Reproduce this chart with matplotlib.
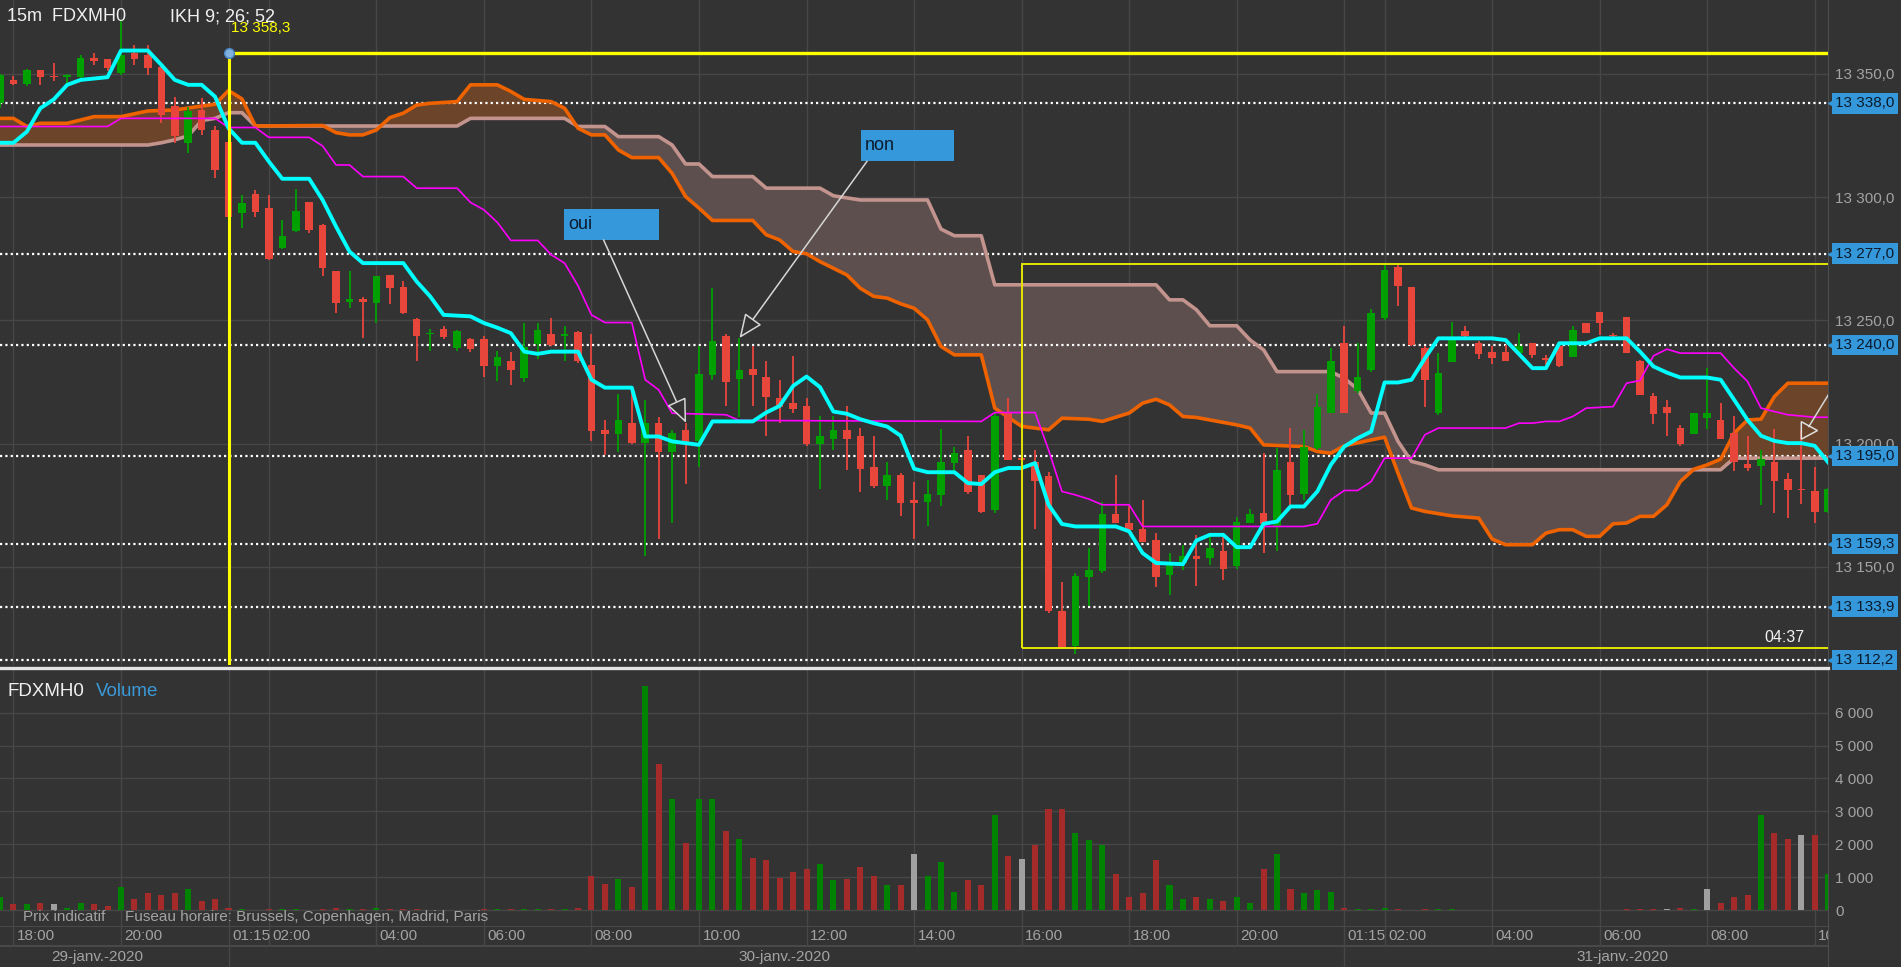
import numpy as np
import matplotlib.pyplot as plt
import matplotlib.transforms as mtransforms
from matplotlib.patches import Rectangle, Polygon
from matplotlib.lines import Line2D

plt.rcParams['font.family'] = ['Liberation Sans', 'DejaVu Sans']

# ── 15 min bars, index 0 = 29 Jan 18:00 ──
bar_idx = np.arange(-1, 136)

opens = [
    13338, 13347.5, 13346, 13351.5, 13349, 13348.5, 13348.5, 13356.3, 13355.8, 13350.2,
    13358.3, 13357.6, 13352.9, 13337, 13321.8, 13335.3, 13327.2, 13322.5, 13293.5, 13301.3,
    13295.5, 13279.3, 13286.4, 13297.8, 13288.7, 13269.8, 13257.5, 13258.5, 13257.2, 13268.4,
    13263.4, 13250.6, 13244.3, 13246.4, 13238.7, 13242.3, 13242.3, 13231.3, 13233.6, 13226.8,
    13240.3, 13244.4, 13243.5, 13245.4, 13231.7, 13205.6, 13203.8, 13208.3, 13200.2, 13208.3,
    13196.8, 13205.6, 13200.9, 13227.9, 13243.7, 13226.1, 13230.3, 13227.2, 13218.4, 13216.4,
    13215.3, 13199.9, 13201.8, 13205.6, 13203.2, 13190.5, 13182.9, 13187.4, 13177.2, 13176.5,
    13179.2, 13192.1, 13197.5, 13187.4, 13172.9, 13212.4, 13194, 13192.5, 13187, 13132.2,
    13117.8, 13146.1, 13148.2, 13171.4, 13168, 13165.3, 13161, 13146.8, 13151.5, 13154.5,
    13153.6, 13156.3, 13150.2, 13168, 13171.8, 13166.7, 13192.5, 13179.6, 13198.2, 13212.6,
    13240.7, 13221.5, 13229.9, 13250.9, 13271.8, 13263.4, 13238.7, 13212.6, 13233, 13245.7,
    13240.7, 13237.3, 13237.3, 13236.7, 13240.7, 13234.6, 13239.4, 13235, 13248.8, 13253.2,
    13244.1, 13251.3, 13233.6, 13219.5, 13215, 13206.3, 13204, 13210.2, 13209.4, 13204.5,
    13191.8, 13191.1, 13192.5, 13185.6, 13181.5, 13180.6, 13172.2]
highs = [
    13350, 13349, 13352, 13351.5, 13354.5, 13350, 13357.5, 13358.3, 13356, 13371.8,
    13361.7, 13361.7, 13353, 13340.7, 13336.7, 13340.3, 13328.6, 13323, 13300.9, 13303,
    13300.9, 13290.7, 13303.3, 13298, 13289, 13270, 13270, 13259.6, 13268, 13268.5,
    13266, 13251, 13246.4, 13247.5, 13246.1, 13243, 13243.7, 13237.4, 13237, 13248.8,
    13248.8, 13250.8, 13247.7, 13245.5, 13244.4, 13209.6, 13220, 13223.4, 13217.8, 13210.7,
    13205.6, 13208.3, 13239.4, 13263, 13244.5, 13242.7, 13239.4, 13233.6, 13225.8, 13235.6,
    13218.4, 13211, 13211, 13215.3, 13206.3, 13203.2, 13192.5, 13188, 13184.3, 13185.3,
    13205.9, 13198.8, 13203.2, 13187.4, 13213, 13218.4, 13194.8, 13197.5, 13188.3, 13143.7,
    13147.5, 13157.6, 13176.5, 13187.4, 13174.5, 13177.2, 13163.7, 13155.6, 13159, 13163,
    13163.7, 13163.7, 13170.2, 13173.4, 13196.1, 13198.2, 13206.3, 13205.6, 13220, 13238.7,
    13247.5, 13240.7, 13254.5, 13273.2, 13272.5, 13263.5, 13239.5, 13236.7, 13249.5, 13247.5,
    13241.5, 13239.4, 13240, 13244.8, 13240.8, 13236, 13240.7, 13247.5, 13249.1, 13253.2,
    13244.8, 13251.3, 13234, 13220.5, 13217.7, 13207.6, 13212.6, 13230.6, 13216.4, 13211,
    13202.9, 13197.5, 13206, 13188, 13205.6, 13190.7, 13182]
lows = [
    13336, 13345.5, 13345, 13345.5, 13347, 13346, 13348, 13353.5, 13351, 13349.5,
    13353.5, 13349.5, 13330, 13321.8, 13318, 13325.2, 13307.6, 13289, 13287.4, 13292,
    13274.5, 13279, 13286, 13285.3, 13267.8, 13252.9, 13255, 13242.8, 13248.9, 13256.6,
    13252.5, 13233.7, 13237.4, 13242.3, 13237.4, 13237, 13227.2, 13225.5, 13223.6, 13224.8,
    13234.2, 13239.4, 13233.6, 13232.6, 13200.9, 13195.5, 13196.4, 13200, 13154.5, 13161.4,
    13167.8, 13183.6, 13190.7, 13225.8, 13215.3, 13210.7, 13215.3, 13203.2, 13208.3, 13212.6,
    13199.2, 13181.5, 13197.5, 13189.4, 13180.3, 13182.2, 13177.2, 13170.5, 13161.4, 13166.4,
    13174.8, 13188, 13179.6, 13171.8, 13171.8, 13193.2, 13192.8, 13165.3, 13131.3, 13117,
    13114.8, 13134, 13147.5, 13167.8, 13163.7, 13160, 13141.8, 13138.7, 13148.9, 13142.4,
    13150.9, 13144.5, 13149.1, 13167.8, 13155.6, 13156.3, 13175.2, 13177.2, 13197.5, 13212.4,
    13212.4, 13220.5, 13229.2, 13250.2, 13255.9, 13239.5, 13214.8, 13211.7, 13233, 13242.7,
    13234.2, 13232.4, 13233.5, 13236, 13234.6, 13232, 13231, 13235, 13244.7, 13244.1,
    13242.7, 13236.6, 13219.8, 13208, 13203.2, 13199.2, 13203.9, 13206, 13201.8, 13188.7,
    13188.7, 13175.2, 13171.8, 13169.8, 13175.6, 13167.8, 13172]
closes = [
    13349.5, 13346, 13351.5, 13348.5, 13348.5, 13349.5, 13356.3, 13355.2, 13352.2, 13357.6,
    13355.8, 13352.2, 13333.3, 13324.8, 13335, 13327, 13311, 13292, 13297.5, 13293.8,
    13274.8, 13284.3, 13294.5, 13286.7, 13271.1, 13257.2, 13258.5, 13257.5, 13267.8, 13263,
    13252.9, 13243.8, 13244.5, 13243.1, 13245.5, 13238.3, 13231.3, 13235.3, 13230, 13239,
    13246.1, 13240, 13244.3, 13233.6, 13205.2, 13203.8, 13209.6, 13200.2, 13208.3, 13196.8,
    13204.2, 13200.2, 13228.3, 13241.8, 13224.8, 13229.9, 13227.9, 13219.1, 13214.8, 13214,
    13199.9, 13203.2, 13205.6, 13201.8, 13189.8, 13182.9, 13187.4, 13176.1, 13176.1, 13179.6,
    13192.5, 13196.1, 13180.2, 13172.1, 13211, 13193.4, 13193.4, 13184.9, 13132, 13117.1,
    13146.4, 13148.9, 13171.4, 13168, 13165.1, 13160.3, 13145.9, 13150.9, 13154.5, 13153.2,
    13157.6, 13149.1, 13168.4, 13171.4, 13167.5, 13189.4, 13179.2, 13198.8, 13214.8, 13233.6,
    13212.4, 13227.2, 13252.9, 13270.5, 13264, 13240, 13225.9, 13228.6, 13242, 13243.7,
    13236.3, 13234.6, 13233.6, 13239.4, 13236, 13234, 13231.3, 13246.1, 13245, 13248.8,
    13243.5, 13236.7, 13219.8, 13212.1, 13212.4, 13199.9, 13212.6, 13212.4, 13201.8, 13192.5,
    13190.1, 13193.7, 13184.7, 13181, 13181, 13172.2, 13181.5]

volumes = [
    405, 172, 172, 223, 172, 71, 223, 172, 121, 698,
    324, 506, 466, 506, 648, 273, 324, 71, 40, 0,
    40, 40, 40, 0, 40, 71, 40, 40, 71, 40,
    40, 40, 0, 0, 0, 0, 40, 40, 40, 40,
    40, 40, 40, 71, 1032, 800, 931, 698, 6821, 4443,
    3360, 2024, 3360, 3360, 2398, 2166, 1589, 1508, 982, 1164,
    1255, 1407, 901, 931, 1316, 1032, 749, 749, 1690, 1032,
    1457, 557, 901, 749, 2874, 1639, 1558, 1973, 3056, 3056,
    2348, 2115, 1973, 1083, 405, 506, 1508, 749, 324, 405,
    324, 263, 405, 223, 1235, 1690, 648, 506, 597, 557,
    71, 40, 40, 71, 40, 0, 40, 40, 40, 0,
    0, 0, 0, 0, 0, 0, 0, 0, 0, 0,
    0, 40, 40, 40, 40, 71, 40, 648, 223, 405,
    466, 2874, 2348, 2166, 2267, 2267, 1083]
vol_dir = ("grgrnggrrg" "rrrrgrrrgr" "rggrrrgrgr" "rrggggrgrg" "grgrrrgrgr"
           "grggrgrrrr" "rggrrrgrng" "ggrrgrnrrr" "gggrrrrggr" "grggrgrggg"
           "rgggrrrggr" "rrrrrrrrrr" "rrrrnrgnrr" "rgrrnrg")

# ── Ichimoku lines (vertices: bar index, price) ──
tenkan_x = [-1, 0, 1, 2, 3, 4, 5, 7, 8, 10, 11, 12, 13, 14, 15, 16, 17, 18, 19, 20,
            22, 23, 24, 25, 26, 29, 30, 31, 32, 34, 35, 36, 37, 38, 39, 40, 42, 43, 44, 46,
            47, 48, 49, 50, 51, 52, 55, 56, 57, 58, 59, 60, 61, 62, 63, 64, 65, 66, 67, 68,
            70, 71, 72, 73, 74, 75, 76, 77, 78, 79, 82, 83, 84, 85, 87, 88, 89, 90, 91, 92,
            93, 94, 95, 96, 97, 98, 99, 100, 101, 102, 103, 104, 105, 106, 110, 111, 113, 114,
            115, 117, 118, 120, 121, 122, 123, 124, 126, 127, 128, 129, 130, 131, 132, 133, 134, 135]
tenkan_y = [13322, 13322, 13326.5, 13336, 13339.6, 13345.5, 13347.5, 13348.6, 13359.4, 13359.4,
            13353.6, 13347.5, 13345.5, 13345.5, 13340.7, 13327.9, 13322, 13322, 13314.4, 13307.4,
            13307.4, 13298.8, 13288, 13277.9, 13273.2, 13273.2, 13265.7, 13259.7, 13252.2, 13251.6,
            13248.9, 13247, 13244.8, 13237.3, 13236.4, 13237.3, 13237.3, 13225.9, 13222.7, 13222.7,
            13202.9, 13202.9, 13200.9, 13200.2, 13199.5, 13209, 13209, 13212.6, 13215.3, 13223.4,
            13227.2, 13222.9, 13213, 13212.1, 13209.9, 13208.3, 13206.9, 13203.2, 13189.8, 13188.4,
            13188.4, 13184, 13183.6, 13188.4, 13190.1, 13190.1, 13192.1, 13175.2, 13167.4, 13166.4,
            13166.4, 13164.4, 13155.6, 13151.6, 13151.1, 13160.7, 13163, 13163, 13158, 13158,
            13167.5, 13168.4, 13174.5, 13174.5, 13180.6, 13191.4, 13198.8, 13202.2, 13204.9, 13224.8,
            13224.8, 13225.9, 13234.6, 13242.7, 13242.7, 13242, 13230.6, 13230.6, 13240.7, 13240.7,
            13242.7, 13242.7, 13237.3, 13231.3, 13228.8, 13226.8, 13226.8, 13225.9, 13217.8, 13209.6,
            13203.2, 13201.1, 13200.2, 13200.2, 13199.1, 13192.4]

kijun_x = [-1, 7, 8, 15, 16, 18, 19, 22, 23, 24, 25, 26, 29, 30, 33, 34, 35, 36, 37, 39,
           40, 41, 42, 43, 44, 46, 47, 48, 49, 53, 54, 72, 73, 76, 77, 78, 79, 80, 81, 83,
           84, 96, 97, 98, 99, 100, 101, 102, 104, 105, 106, 111, 112, 113, 114, 115, 116, 117,
           119, 120, 121, 122, 123, 124, 127, 128, 129, 130, 131, 132, 134, 135]
kijun_y = [13328.6, 13328.6, 13331.9, 13331.9, 13328.2, 13328.2, 13324.2, 13324.2, 13320.7, 13313,
           13313, 13308.3, 13308.3, 13303.6, 13303.6, 13297.8, 13294.8, 13289.7, 13282.4, 13282.4,
           13276.6, 13273.2, 13264, 13252.2, 13249.1, 13249.1, 13225.9, 13221.8, 13212.3, 13211.7,
           13209.4, 13209, 13212.6, 13212.6, 13197.5, 13180.6, 13179.2, 13177.5, 13175.2, 13175.2,
           13166.4, 13166.4, 13167.5, 13177.2, 13181, 13181, 13184.6, 13194.1, 13194.1, 13203.6,
           13206.3, 13206.3, 13208.3, 13208.3, 13209, 13209, 13211, 13214.4, 13215, 13224.5,
           13225.6, 13235.6, 13238.3, 13236.7, 13236.7, 13230.6, 13225.2, 13214.4, 13213, 13211.7,
           13210.7, 13210.7]

span_a_x = [-1, 0, 1, 2, 4, 6, 8, 10, 12, 14, 15, 16, 17, 18, 23, 24, 25, 26, 27, 28,
            29, 30, 31, 33, 34, 36, 37, 38, 40, 41, 42, 43, 44, 45, 46, 48, 49, 50, 51, 52,
            55, 56, 57, 58, 59, 60, 61, 62, 63, 64, 65, 66, 67, 68, 69, 70, 72, 73, 75, 77,
            78, 80, 81, 83, 84, 85, 86, 87, 88, 91, 92, 93, 96, 97, 98, 99, 101, 102, 103, 104,
            105, 107, 109, 110, 111, 113, 114, 115, 116, 117, 118, 119, 120, 121, 122, 123, 124,
            125, 126, 127, 128, 129, 130, 131, 132, 135]
span_a_y = [13331.9, 13331.9, 13328.6, 13329.9, 13329.9, 13332.6, 13332.6, 13334.9, 13335.3, 13336.9,
            13337.6, 13343.2, 13339.8, 13328.8, 13329, 13326.1, 13325.2, 13325.2, 13327.2, 13332.2,
            13334, 13337.3, 13338, 13338.7, 13345.5, 13345.5, 13342.8, 13339.6, 13338.7, 13336,
            13327.9, 13325.2, 13325.2, 13319.1, 13316, 13316, 13309.6, 13300.2, 13295.5, 13290.5,
            13290.5, 13284.7, 13282.6, 13277.9, 13277, 13273.8, 13271.1, 13268.4, 13263, 13259.7,
            13259, 13256.7, 13254.9, 13250.2, 13239.4, 13236, 13236, 13214.4, 13207, 13205.6,
            13210.3, 13209.9, 13209, 13212.4, 13216.4, 13218, 13215.7, 13211, 13210.6, 13207.6,
            13206.3, 13199.5, 13198.8, 13196.8, 13196.1, 13199.1, 13201.5, 13202.6, 13188, 13173.9,
            13172.5, 13170.7, 13169.8, 13161.3, 13159, 13159, 13163.7, 13165.1, 13165.1, 13162.4,
            13162.4, 13167.5, 13167.8, 13170.5, 13170.5, 13175.2, 13184.6, 13189.6, 13191.4, 13193.7,
            13204.2, 13209.6, 13209.9, 13219.1, 13224.5, 13224.5]

span_b_x = [-1, 10, 11, 12, 13, 14, 15, 16, 17, 18, 33, 34, 41, 42, 44, 45, 48, 49, 50, 51,
            52, 55, 56, 60, 61, 63, 68, 69, 70, 72, 73, 85, 86, 87, 88, 89, 91, 92, 93, 94,
            98, 99, 100, 101, 102, 103, 104, 105, 106, 127, 128, 135]
span_b_y = [13321.1, 13321.1, 13322, 13323.2, 13324.8, 13331, 13331.9, 13334.2, 13334.2, 13328.8,
            13328.8, 13331.9, 13331.9, 13328.6, 13328.6, 13324.5, 13324.5, 13321.1, 13313.4, 13313.4,
            13308.3, 13308.3, 13303.6, 13303.6, 13300.5, 13298.8, 13298.8, 13287, 13284.3, 13284.3,
            13264.4, 13264.4, 13258.3, 13258.3, 13254.3, 13247.8, 13247.8, 13242, 13238, 13229.2,
            13229.2, 13226.5, 13222.1, 13212.4, 13212.4, 13200.9, 13192.8, 13191.4, 13189.4, 13189.4,
            13194.1, 13194.1]

# ── levels / axes labels ──
level_values = [13338.0, 13277.0, 13240.0, 13195.0, 13159.3, 13133.9, 13112.2]
price_ticks = [13150, 13200, 13250, 13300, 13350]
vol_ticks = [0, 1000, 2000, 3000, 4000, 5000, 6000]
tick_idx = [0, 8, 16, 19, 27, 35, 43, 51, 59, 67, 75, 83, 91, 99, 102, 110, 118, 126, 134]
tick_labels = ["18:00", "20:00", "01:15", "02:00", "04:00", "06:00", "08:00", "10:00", "12:00",
               "14:00", "16:00", "18:00", "20:00", "01:15", "02:00", "04:00", "06:00", "08:00", "10:00"]
day_bounds = [16, 99]
day_pos = [6.2, 57.35, 119.7]
day_labels = ["29-janv.-2020", "30-janv.-2020", "31-janv.-2020"]

hline_price = 13358.3
hline_start = 16
zone_start, zone_low, zone_high = 75, 13117.0, 13272.7

BG = '#333333'
GRID = '#474747'
UP, DOWN = '#00a000', '#e8453b'
VOL_COLORS = {'g': '#008300', 'r': '#a52b2b', 'n': '#a0a0a0'}
TAG = '#3498db'
AXIS_TXT = '#a3a3a3'
XLIM = (-1.0, 135.0)
YLIM = (13110.1, 13379.9)


def fr(v, dec=1):
    s = f"{v:,.{dec}f}" if dec else f"{v:,.0f}"
    return s.replace(',', ' ').replace('.', ',')


fig = plt.figure(figsize=(19.01, 9.67), dpi=100, facecolor=BG)
ax = fig.add_axes([0, 0.312, 0.9617, 0.688], facecolor=BG)
axv = fig.add_axes([0, 0.0426, 0.9617, 0.2644], facecolor=BG)
axt = fig.add_axes([0, 0, 0.9617, 0.0426], facecolor=BG)

for a in (ax, axv, axt):
    a.set_xlim(*XLIM)
    for name, s in a.spines.items():
        s.set_visible(name == 'right')
        s.set_color('#4e4e4e')
    a.set_xticks(tick_idx)
    a.tick_params(axis='x', length=0, labelbottom=False)

# ━━━ price panel ━━━
ax.set_ylim(*YLIM)
ax.grid(True, color=GRID, lw=1)
ax.set_axisbelow(True)
ax.yaxis.tick_right()
ax.set_yticks(price_ticks)
ax.set_yticklabels([fr(v) for v in price_ticks])
ax.tick_params(axis='y', length=0, pad=5, labelsize=11, labelcolor=AXIS_TXT)

# cloud
xs = bar_idx.astype(float)
a_vals = np.interp(xs, span_a_x, span_a_y)
b_vals = np.interp(xs, span_b_x, span_b_y)
ax.fill_between(xs, a_vals, b_vals, where=a_vals >= b_vals, interpolate=True,
                color='#6b4429', lw=0, zorder=1)
ax.fill_between(xs, a_vals, b_vals, where=a_vals <= b_vals, interpolate=True,
                color='#5e4f4f', lw=0, zorder=1)

# dotted levels + blue tags
trans = mtransforms.blended_transform_factory(ax.transAxes, ax.transData)
tri_tr = trans + mtransforms.ScaledTranslation(3 / 72, 0, fig.dpi_scale_trans)
for lv in level_values:
    ax.axhline(lv, color='white', ls=(0, (1, 1.4)), lw=1.6, zorder=2)
    ax.annotate(fr(lv), xy=(1, lv), xycoords=trans, xytext=(5, 0), textcoords='offset points',
                ha='left', va='center', fontsize=11, color='#0c1a2a', zorder=12,
                bbox=dict(boxstyle='square,pad=0.22', fc=TAG, ec='none'),
                annotation_clip=False)
    ax.plot([1], [lv], marker='<', ms=6, color=TAG, transform=tri_tr,
            clip_on=False, zorder=12)

ax.plot(span_b_x, span_b_y, color='#c3948d', lw=2.6, zorder=3, solid_joinstyle='round')
ax.plot(span_a_x, span_a_y, color='#ee6300', lw=2.6, zorder=3.1, solid_joinstyle='round')

# candles
o, h, l, c = (np.array(v, dtype=float) for v in (opens, highs, lows, closes))
ccol = np.where(c >= o, UP, DOWN)
ax.vlines(bar_idx, l, h, colors=ccol, lw=1.3, zorder=4)
ax.bar(bar_idx, np.maximum(np.abs(c - o), 0.7), bottom=np.minimum(o, c),
       width=0.56, color=ccol, lw=0, zorder=4.1)

ax.plot(kijun_x, kijun_y, color='#ff00ff', lw=1.2, zorder=5)
ax.plot(tenkan_x, tenkan_y, color='#00ffff', lw=2.8, zorder=6, solid_joinstyle='round')

# yellow drawings
ax.vlines(hline_start, YLIM[0], hline_price, color='#ffff00', lw=2.2, zorder=7)
ax.hlines(hline_price, hline_start, XLIM[1] + 1, color='#ffff00', lw=2.4, zorder=7)
ax.plot(hline_start, hline_price, 'o', ms=7, mfc='#7fb0de', mec='#4a86c5', zorder=8)
ax.text(16.15, 13368.4, fr(hline_price), color='#ffff00', fontsize=11,
        ha='left', va='center', zorder=8)
ax.add_patch(Rectangle((zone_start, zone_low), 70, zone_high - zone_low, fill=False,
                       ec='#e6e600', lw=1.4, zorder=7))
ax.text(133.25, 13121.2, "04:37", color='#f2f2f2', fontsize=11.5,
        ha='right', va='center', zorder=8)

# comment boxes and arrows
for (x0, x1, y0, y1, lab) in [(40.94, 48.06, 13282.6, 13295.3, "oui"),
                              (63.03, 69.97, 13314.5, 13327.3, "non")]:
    ax.add_patch(Rectangle((x0, y0), x1 - x0, y1 - y0, fc=TAG, ec='none', zorder=9))
    ax.text(x0 + 0.3, (y0 + y1) / 2, lab, color='#0c1a2a', fontsize=13,
            ha='left', va='center', zorder=10)

arrow_kw = dict(arrowstyle='-|>,head_length=0.75,head_width=0.32', ec='#d6d6d6',
                fc=BG, lw=1.1, mutation_scale=20, shrinkA=0, shrinkB=0)
ax.annotate('', xy=(50.04, 13208.4), xytext=(43.9, 13282.6), arrowprops=arrow_kw, zorder=9)
ax.annotate('', xy=(54.01, 13242.8), xytext=(63.5, 13314.5), arrowprops=arrow_kw, zorder=9)
ax.plot([135.0, 133.56], [13219.7, 13206.9], color='#d6d6d6', lw=1.1, zorder=9)
ax.add_patch(Polygon([(133.0, 13208.9), (133.0, 13201.8), (134.2, 13205.3)], closed=True,
                     fill=False, ec='#e0e0e0', lw=1.1, zorder=9))

fig.text(0.0038, 0.9825, "15m  FDXMH0", color='#f0f0f0', fontsize=13, va='center')
fig.text(0.0893, 0.9825, "IKH 9; 26; 52", color='#f0f0f0', fontsize=13, va='center')

# separator
fig.add_artist(Line2D([0, 0.9617], [0.3095, 0.3095], color='#e4e4e4', lw=2.4,
                      transform=fig.transFigure))

# ━━━ volume panel ━━━
axv.set_ylim(-478, 7290)
axv.grid(True, color=GRID, lw=1)
axv.set_axisbelow(True)
axv.yaxis.tick_right()
axv.set_yticks(vol_ticks)
axv.set_yticklabels([fr(v, 0) for v in vol_ticks])
axv.tick_params(axis='y', length=0, pad=5, labelsize=11, labelcolor=AXIS_TXT)
axv.bar(bar_idx, volumes, width=0.45, color=[VOL_COLORS[d] for d in vol_dir], lw=0, zorder=3)

fig.text(0.0038, 0.2845, "FDXMH0", color='#f0f0f0', fontsize=13.5, va='center')
fig.text(0.0504, 0.2845, "Volume", color='#3a9ad9', fontsize=13.5, va='center')
fig.text(0.0121, 0.0514, "Prix indicatif", color=AXIS_TXT, fontsize=11, va='center')
fig.text(0.0657, 0.0514, "Fuseau horaire: Brussels, Copenhagen, Madrid, Paris",
         color=AXIS_TXT, fontsize=11, va='center')

# ━━━ time / date rows ━━━
axt.set_ylim(0, 2)
axt.set_yticks([])
axt.axhline(1.0, color='#4e4e4e', lw=1.2)
axt.axhline(1.98, color='#4e4e4e', lw=1.2)
axt.vlines(tick_idx, 1, 2, color=GRID, lw=1)
axt.vlines(day_bounds, 0, 1, color=GRID, lw=1)
for t, lab in zip(tick_idx, tick_labels):
    axt.text(t + 0.25, 1.5, lab, ha='left', va='center', fontsize=11,
             color=AXIS_TXT, clip_on=True)
for p, lab in zip(day_pos, day_labels):
    axt.text(p, 0.5, lab, ha='center', va='center', fontsize=11, color=AXIS_TXT)

fig.savefig("out.png", dpi=100, facecolor=BG)
